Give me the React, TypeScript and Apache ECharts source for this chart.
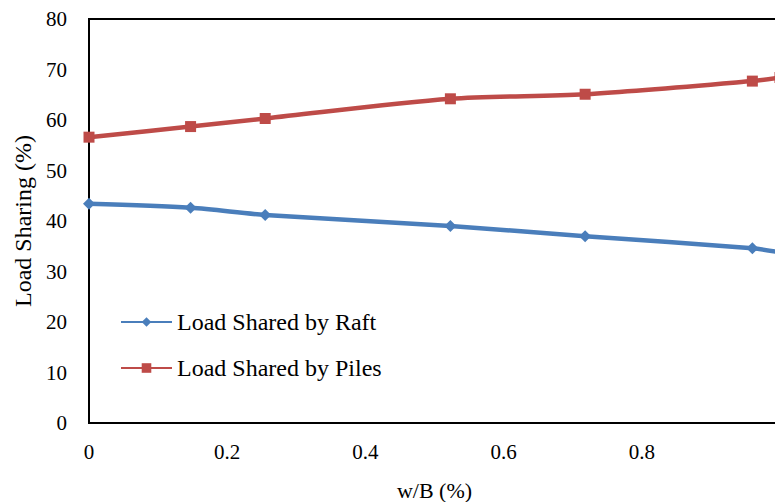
import React, { useEffect, useRef } from "react";
import * as echarts from "echarts";

const xValues = [0, 0.147, 0.255, 0.523, 0.718, 0.96, 1.0];
const raftValues = [43.4, 42.6, 41.2, 39.0, 37.0, 34.6, 33.8];
const pilesValues = [56.6, 58.7, 60.3, 64.2, 65.1, 67.7, 68.4];
const seriesNames = ["Load Shared by Raft", "Load Shared by Piles"];

const FONT = "Times New Roman";

export default function App() {
  const ref = useRef<HTMLDivElement>(null);
  useEffect(() => {
    if (!ref.current) return;
    const chart = echarts.init(ref.current, null, { renderer: "svg" });
    chart.setOption({
      animation: false,
      backgroundColor: "#fff",
      textStyle: { fontFamily: FONT },
      grid: {
        left: 89,
        top: 19,
        width: 691,
        height: 404,
        show: true,
        borderColor: "#000",
        borderWidth: 2,
        outerBoundsMode: "none",
      },
      legend: {
        orient: "vertical",
        left: 115,
        top: 305,
        itemGap: 22,
        itemWidth: 51,
        itemHeight: 12,
        textStyle: { fontFamily: FONT, fontSize: 24, color: "#000" },
        data: seriesNames,
      },
      xAxis: {
        type: "value",
        min: 0,
        max: 1,
        interval: 0.2,
        name: "w/B (%)",
        nameLocation: "middle",
        nameGap: 56,
        nameTextStyle: { fontFamily: FONT, fontSize: 22, color: "#000" },
        axisLine: { show: true, lineStyle: { color: "#000", width: 2 } },
        axisTick: { show: false },
        splitLine: { show: false },
        axisLabel: {
          fontFamily: FONT,
          fontSize: 21,
          color: "#000",
          margin: 18,
          formatter: (v: number) => (v === 1 ? "" : String(Math.round(v * 10) / 10)),
        },
      },
      yAxis: {
        type: "value",
        min: 0,
        max: 80,
        interval: 10,
        name: "Load Sharing (%)",
        nameLocation: "middle",
        nameGap: 54,
        nameTextStyle: { fontFamily: FONT, fontSize: 24, color: "#000" },
        axisLine: { show: true, lineStyle: { color: "#000", width: 2 } },
        axisTick: { show: false },
        splitLine: { show: false },
        axisLabel: { fontFamily: FONT, fontSize: 21, color: "#000", margin: 22 },
      },
      series: [
        {
          name: seriesNames[0],
          type: "line",
          smooth: 0.3,
          data: xValues.map((x, i) => [x, raftValues[i]]),
          symbol: "diamond",
          symbolSize: 12,
          lineStyle: { color: "#4A7EBB", width: 4.5 },
          itemStyle: { color: "#4A7EBB" },
        },
        {
          name: seriesNames[1],
          type: "line",
          smooth: 0.3,
          data: xValues.map((x, i) => [x, pilesValues[i]]),
          symbol: "rect",
          symbolSize: 11,
          lineStyle: { color: "#BE4B48", width: 4.5 },
          itemStyle: { color: "#BE4B48" },
        },
      ],
    });
    return () => chart.dispose();
  }, []);
  return <div ref={ref} style={{ width: 775, height: 502, position: "absolute", left: 0, top: 0 }} />;
}
